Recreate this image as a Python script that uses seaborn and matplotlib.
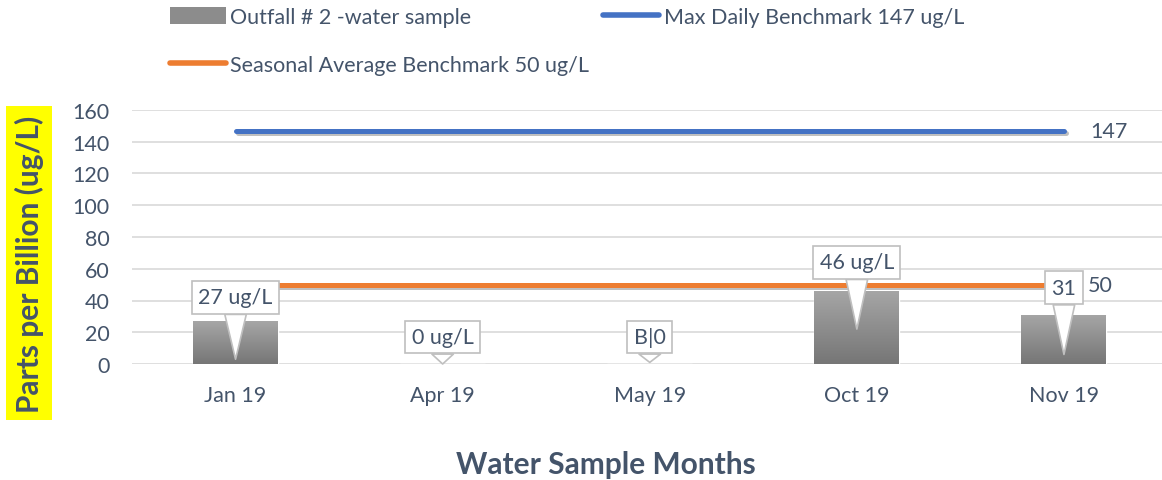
import numpy as np
import pandas as pd
import seaborn as sns
import matplotlib.pyplot as plt
import matplotlib.patheffects as pe
from matplotlib.colors import LinearSegmentedColormap
from matplotlib.patches import Patch
from matplotlib.lines import Line2D

months = ["Jan 19", "Apr 19", "May 19", "Oct 19", "Nov 19"]
outfall = [27, 0, 0, 46, 31]
callouts = ["27 ug/L", "0 ug/L", "B|0", "46 ug/L", "31"]
max_daily = [147, 147, 147, 147, 147]
seasonal = [50, 50, 50, 50, 50]

TXT = "#44546A"
BLUE = "#4472C4"
ORANGE = "#ED7D31"
FS = 15.5

sns.set_style("white")
plt.rcParams["font.family"] = ["Lato", "DejaVu Sans"]

df = pd.DataFrame({"month": months, "value": outfall})
pos = np.arange(len(months))

fig = plt.figure(figsize=(11.62, 4.81), dpi=100)
ax = fig.add_axes([132 / 1162, 1 - 365 / 481, 1 - 132 / 1162, 254 / 481])

sns.barplot(data=df, x="month", y="value", color="#8C8C8C", width=0.41,
            saturation=1, ax=ax, zorder=2)

# gradient fill on bars (light top, darker bottom)
grad = np.linspace(0, 1, 100).reshape(-1, 1)
cmap = LinearSegmentedColormap.from_list("g", ["#A6A6A6", "#767676"])
for p in ax.patches:
    h = p.get_height()
    if h <= 0:
        continue
    x0, w = p.get_x(), p.get_width()
    im = ax.imshow(grad, cmap=cmap, extent=[x0, x0 + w, 0, h], origin="upper",
                   aspect="auto", zorder=2.5)
    im.set_clip_path(p)

shadow = [pe.SimpleLineShadow(offset=(1.5, -2), alpha=0.25), pe.Normal()]
sns.lineplot(x=pos, y=max_daily, color=BLUE, lw=3.6, ax=ax, zorder=3,
             solid_capstyle="round", path_effects=shadow)
sns.lineplot(x=pos, y=seasonal, color=ORANGE, lw=3.6, ax=ax, zorder=3,
             solid_capstyle="round", path_effects=shadow)

ax.set_xlim(-0.5, (1162 - 236) / 207)
ax.set_ylim(0, 160)
ax.set_yticks(range(0, 161, 20))
ax.grid(axis="y", color="#D9D9D9", lw=1.2, zorder=0)
ax.set_axisbelow(True)
for s in ax.spines.values():
    s.set_visible(False)
ax.tick_params(axis="both", length=0, labelsize=FS, labelcolor=TXT)
ax.tick_params(axis="y", pad=16)
ax.tick_params(axis="x", pad=15)
ax.set_xlabel("")
ax.set_ylabel("")

# callouts
box_xy = [(0, 42), (1, 17), (2, 17), (3, 64), (4, 48)]
tip_xy = [(0, 3), (1, 0), (2, 1), (3, 22), (4, 6)]
for lab, bxy, txy in zip(callouts, box_xy, tip_xy):
    ax.annotate(lab, xy=txy, xytext=bxy, ha="center", va="center",
                fontsize=FS, color=TXT, zorder=5,
                bbox=dict(boxstyle="square,pad=0.3", fc="white", ec="#BFBFBF", lw=1.2),
                arrowprops=dict(arrowstyle="wedge,tail_width=1.0,shrink_factor=0.5",
                                fc="white", ec="#BFBFBF", lw=1.2,
                                shrinkA=0, shrinkB=0))

ax.text(4.125, 147, "147", va="center", ha="left", fontsize=FS, color=TXT)
ax.text(4.115, 50, "50", va="center", ha="left", fontsize=FS, color=TXT)

handles = [Patch(fc="#8C8C8C", ec="none"),
           Line2D([], [], color=ORANGE, lw=4, solid_capstyle="round"),
           Line2D([], [], color=BLUE, lw=4, solid_capstyle="round")]
labels = ["Outfall # 2 -water sample", "Seasonal Average Benchmark 50 ug/L",
          "Max Daily Benchmark 147 ug/L"]
leg = fig.legend(handles, labels, ncol=2, loc="upper left",
                 bbox_to_anchor=(170 / 1162, 1 - 8 / 481), frameon=False,
                 fontsize=FS, handlelength=2.6, handleheight=0.8,
                 handletextpad=0.2, columnspacing=0.65, labelspacing=1.3,
                 borderpad=0, borderaxespad=0)
for t in leg.get_texts():
    t.set_color(TXT)

fig.text(606 / 1162, 1 - 465 / 481, "Water Sample Months", ha="center",
         va="center", fontsize=21.5, fontweight="bold", color=TXT)
fig.text(29 / 1162, 1 - 264 / 481, "Parts per Billion (ug/L)", rotation=90,
         ha="center", va="center", fontsize=21.5, fontweight="bold", color=TXT,
         bbox=dict(fc="#FFFF00", ec="none", pad=6))

fig.savefig("out.png", dpi=100)
